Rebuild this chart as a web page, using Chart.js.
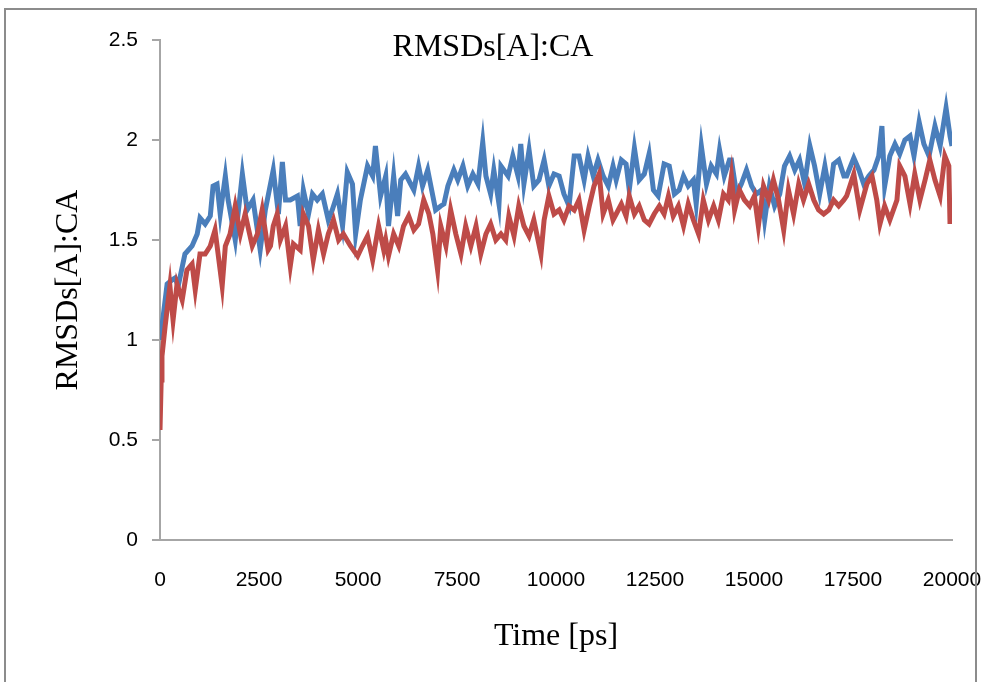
<!DOCTYPE html>
<html>
<head>
<meta charset="utf-8">
<style>
	html, body { margin: 0; padding: 0; background: #fff; }
	#wrap { position: relative; width: 982px; height: 682px; overflow: hidden; }
	#frame { position: absolute; left: 4px; top: 8px; width: 973px; height: 700px; border: 2px solid #8c8c8c; box-sizing: border-box; }
	#rmsd { position: absolute; left: 0; top: 0; }
</style>
</head>
<body>
<div id="wrap">
	<canvas id="rmsd" width="982" height="682"></canvas>
	<div id="frame"></div>
</div>
<script src="https://cdn.jsdelivr.net/npm/chart.js"></script>
<script>
// time (ps) / RMSD pairs for the two runs
const blueTime = [
	0, 50, 180, 300, 380, 460, 630, 810, 940, 1010,
	1140, 1270, 1340, 1440, 1520, 1650, 1720, 1900, 2080, 2200,
	2350, 2530, 2660, 2860, 2990, 3090, 3170, 3290, 3470, 3540,
	3620, 3750, 3850, 3970, 4100, 4250, 4350, 4480, 4610, 4730,
	4860, 4940, 5060, 5240, 5370, 5440, 5570, 5700, 5770, 5900,
	6000, 6080, 6200, 6330, 6410, 6530, 6630, 6760, 6890, 6960,
	7090, 7170, 7270, 7420, 7520, 7650, 7770, 7900, 8030, 8150,
	8230, 8350, 8430, 8560, 8610, 8790, 8910, 9040, 9110, 9190,
	9320, 9440, 9570, 9700, 9820, 9950, 10080, 10200, 10330, 10460,
	10580, 10710, 10810, 10940, 11060, 11190, 11320, 11440, 11520, 11650,
	11770, 11850, 11980, 12100, 12230, 12350, 12460, 12580, 12730, 12860,
	12990, 13110, 13220, 13340, 13470, 13540, 13670, 13800, 13920, 14050,
	14130, 14250, 14380, 14430, 14560, 14680, 14810, 14940, 15060, 15190,
	15270, 15390, 15520, 15650, 15770, 15900, 16030, 16150, 16280, 16410,
	16530, 16660, 16790, 16910, 17010, 17140, 17270, 17340, 17520, 17650,
	17770, 17900, 18030, 18150, 18230, 18300, 18430, 18560, 18680, 18810,
	18940, 19040, 19170, 19290, 19420, 19570, 19700, 19850, 19950, 20000
];
const blueRmsd = [
	1.00, 1.07, 1.28, 1.30, 1.31, 1.27, 1.43, 1.47, 1.53, 1.61,
	1.58, 1.62, 1.77, 1.78, 1.63, 1.82, 1.70, 1.50, 1.83, 1.65,
	1.70, 1.45, 1.65, 1.85, 1.63, 1.89, 1.70, 1.70, 1.72, 1.57,
	1.75, 1.63, 1.73, 1.70, 1.73, 1.60, 1.65, 1.73, 1.57, 1.84,
	1.78, 1.53, 1.70, 1.87, 1.82, 1.97, 1.72, 1.82, 1.57, 1.82,
	1.62, 1.80, 1.83, 1.78, 1.75, 1.87, 1.77, 1.85, 1.72, 1.65,
	1.67, 1.68, 1.77, 1.85, 1.80, 1.87, 1.77, 1.83, 1.78, 1.99,
	1.82, 1.73, 1.85, 1.68, 1.87, 1.82, 1.92, 1.82, 1.98, 1.78,
	1.95, 1.77, 1.80, 1.90, 1.77, 1.83, 1.82, 1.73, 1.67, 1.92,
	1.92, 1.80, 1.92, 1.82, 1.90, 1.82, 1.77, 1.87, 1.80, 1.90,
	1.88, 1.75, 1.96, 1.80, 1.83, 1.93, 1.75, 1.72, 1.88, 1.87,
	1.73, 1.75, 1.82, 1.77, 1.80, 1.68, 1.97, 1.78, 1.87, 1.83,
	1.95, 1.82, 1.90, 1.90, 1.73, 1.78, 1.85, 1.77, 1.73, 1.75,
	1.60, 1.77, 1.67, 1.73, 1.87, 1.92, 1.85, 1.90, 1.78, 1.97,
	1.87, 1.73, 1.87, 1.73, 1.88, 1.90, 1.82, 1.82, 1.91, 1.85,
	1.78, 1.82, 1.85, 1.92, 2.07, 1.77, 1.92, 1.98, 1.93, 2.00,
	2.02, 1.92, 2.09, 1.98, 1.92, 2.07, 1.97, 2.16, 2.02, 1.97
];
const redTime = [
	0, 30, 50, 130, 250, 330, 430, 560, 680, 810,
	890, 1010, 1140, 1270, 1390, 1570, 1650, 1770, 1900, 2030,
	2150, 2330, 2460, 2580, 2730, 2790, 2860, 2960, 3040, 3170,
	3290, 3370, 3540, 3620, 3750, 3870, 4000, 4130, 4250, 4380,
	4510, 4630, 4810, 4990, 5110, 5240, 5370, 5520, 5650, 5700,
	5770, 5900, 6030, 6150, 6280, 6410, 6530, 6660, 6790, 6890,
	7010, 7090, 7220, 7340, 7470, 7600, 7720, 7850, 7980, 8100,
	8230, 8350, 8480, 8610, 8730, 8810, 8940, 9060, 9190, 9320,
	9440, 9620, 9700, 9820, 9950, 10080, 10200, 10330, 10460, 10580,
	10710, 10840, 10960, 11090, 11190, 11320, 11440, 11520, 11650, 11770,
	11850, 11980, 12100, 12230, 12350, 12480, 12610, 12730, 12840, 12960,
	13090, 13220, 13340, 13470, 13600, 13720, 13850, 13980, 14100, 14230,
	14350, 14430, 14510, 14630, 14760, 14890, 15010, 15110, 15240, 15370,
	15490, 15620, 15750, 15870, 16000, 16130, 16250, 16380, 16510, 16630,
	16760, 16890, 17010, 17140, 17270, 17340, 17520, 17670, 17850, 17980,
	18100, 18180, 18300, 18430, 18610, 18680, 18810, 18940, 19060, 19190,
	19320, 19440, 19570, 19700, 19820, 19920, 19950
];
const redRmsd = [
	0.55, 0.80, 0.92, 1.07, 1.27, 1.10, 1.28, 1.20, 1.35, 1.38,
	1.25, 1.43, 1.43, 1.47, 1.55, 1.27, 1.47, 1.53, 1.67, 1.53,
	1.63, 1.47, 1.53, 1.65, 1.45, 1.47, 1.57, 1.63, 1.50, 1.57,
	1.37, 1.48, 1.45, 1.63, 1.57, 1.40, 1.55, 1.43, 1.53, 1.60,
	1.50, 1.53, 1.47, 1.42, 1.47, 1.52, 1.40, 1.57, 1.45, 1.50,
	1.42, 1.53, 1.47, 1.57, 1.62, 1.55, 1.58, 1.70, 1.63, 1.53,
	1.35, 1.57, 1.47, 1.65, 1.53, 1.43, 1.57, 1.47, 1.57, 1.43,
	1.53, 1.58, 1.50, 1.53, 1.50, 1.62, 1.52, 1.67, 1.57, 1.52,
	1.60, 1.43, 1.60, 1.72, 1.63, 1.65, 1.60, 1.67, 1.65, 1.70,
	1.55, 1.67, 1.77, 1.83, 1.63, 1.70, 1.60, 1.63, 1.68, 1.62,
	1.72, 1.63, 1.67, 1.60, 1.58, 1.63, 1.67, 1.63, 1.72, 1.62,
	1.67, 1.57, 1.68, 1.60, 1.53, 1.70, 1.60, 1.67, 1.60, 1.73,
	1.70, 1.82, 1.65, 1.75, 1.70, 1.67, 1.72, 1.57, 1.77, 1.70,
	1.80, 1.70, 1.55, 1.75, 1.63, 1.78, 1.70, 1.78, 1.70, 1.65,
	1.63, 1.65, 1.70, 1.67, 1.70, 1.72, 1.83, 1.65, 1.78, 1.82,
	1.70, 1.58, 1.67, 1.60, 1.70, 1.87, 1.82, 1.68, 1.83, 1.70,
	1.80, 1.90, 1.80, 1.72, 1.92, 1.87, 1.58
];

const chartTitle = 'RMSDs[A]:CA'
const xTitle = 'Time [ps]'
const yTitle = 'RMSDs[A]:CA'

const serif = "'Liberation Serif', 'Times New Roman', serif"
const sans = "'Liberation Sans', Arial, sans-serif"

function toPoints(xs, ys){
	return xs.map((x, i) => ({x: x, y: ys[i]}))
}

// plain numbers on the ticks: 2500 not 2,500, 2 not 2.0
const plain = v => String(v)

// title sits inside the plot area, so draw it after the datasets
const innerTitle = {
	id: 'innerTitle',
	afterDraw(chart){
		const c = chart.ctx
		c.save()
		c.font = '32px ' + serif
		c.fillStyle = '#000'
		c.textAlign = 'center'
		c.textBaseline = 'middle'
		c.fillText(chartTitle, 493, 48)
		c.restore()
	}
}

new Chart(document.getElementById('rmsd'), {
	type: 'line',
	data: {
		datasets: [
			{
				data: toPoints(redTime, redRmsd),
				borderColor: '#be4b48',
				borderWidth: 5,
				pointRadius: 0,
				tension: 0,
				order: 0
			},
			{
				data: toPoints(blueTime, blueRmsd),
				borderColor: '#4a7ebb',
				borderWidth: 5,
				pointRadius: 0,
				tension: 0,
				order: 1
			}
		]
	},
	options: {
		responsive: false,
		animation: false,
		layout: { padding: { left: 45, top: 40, right: 2, bottom: 0 } },
		plugins: { legend: { display: false }, tooltip: { enabled: false } },
		scales: {
			x: {
				type: 'linear',
				min: 0,
				max: 20000,
				// tick padding also widens the side gap; keep only half a label there
				afterFit(s){ s.height = 142; s.paddingRight = 30 },
				ticks: { stepSize: 2500, callback: plain, color: '#000', padding: 28, maxRotation: 0, font: { family: sans, size: 21 } },
				grid: { display: true, drawOnChartArea: false, drawTicks: false },
				border: { color: '#a6a6a6', width: 2 },
				title: { display: true, text: xTitle, color: '#000', font: { family: serif, size: 32 }, padding: { bottom: 26 } }
			},
			y: {
				min: 0,
				max: 2.5,
				afterFit(s){ s.width = 115 },
				ticks: { stepSize: 0.5, callback: plain, color: '#000', padding: 14, font: { family: sans, size: 21 } },
				grid: { drawOnChartArea: false, tickLength: 8, color: '#a6a6a6', lineWidth: 2 },
				border: { color: '#a6a6a6', width: 2 },
				title: { display: true, text: yTitle, color: '#000', font: { family: serif, size: 32 }, padding: { top: 4 } }
			}
		}
	},
	plugins: [innerTitle]
})
</script>
</body>
</html>
